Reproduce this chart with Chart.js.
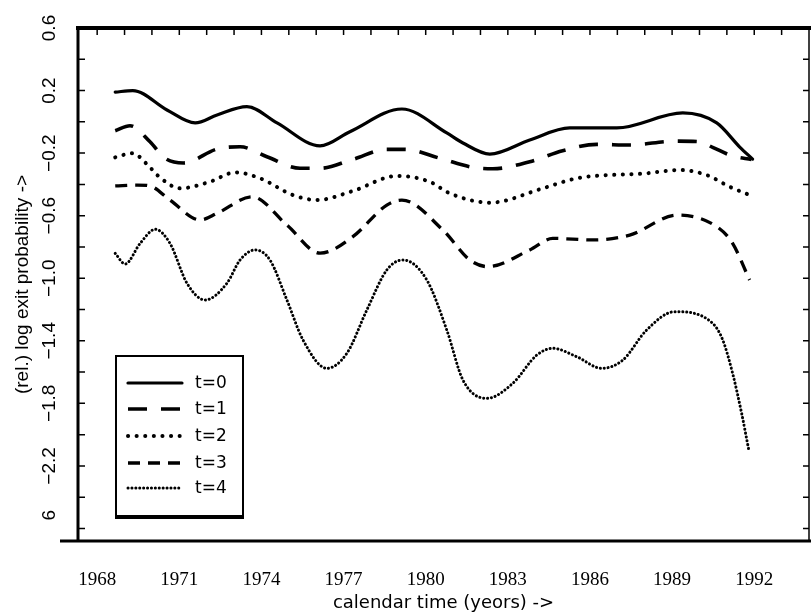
<!DOCTYPE html>
<html>
<head>
<meta charset="utf-8">
<script src="https://cdn.jsdelivr.net/npm/chart.js@4.4.1/dist/chart.umd.min.js"></script>
<style>
    html, body { margin: 0; padding: 0; background: #fff; }
    #wrap { width: 811px; height: 612px; }
</style>
</head>
<body>
<div id="wrap"><canvas id="chart" width="811" height="612"></canvas></div>
<script>
// values (year, relative log exit probability)
const t0Years = [1968.66, 1969.3, 1970.55, 1971.58, 1972.38, 1973.47, 1974.57, 1976.14, 1977.23, 1979.13, 1980.77, 1981.36, 1982.34, 1983.8, 1985.26, 1986.98, 1989.39, 1990.63, 1991.47, 1991.94];
const t0Values = [0.19, 0.20, 0.076, -0.007, 0.044, 0.097, -0.007, -0.154, -0.063, 0.082, -0.071, -0.135, -0.206, -0.116, -0.039, -0.039, 0.057, -0.007, -0.161, -0.238];

const t1Years = [1968.66, 1969.2, 1969.93, 1970.48, 1971.15, 1972.38, 1973.22, 1974.2, 1975.41, 1976.14, 1977.34, 1978.58, 1979.24, 1980.52, 1981.72, 1982.45, 1983.8, 1985.0, 1986.25, 1987.45, 1989.1, 1990.0, 1990.48, 1991.2, 1991.9];
const t1Values = [-0.057, -0.025, -0.127, -0.233, -0.263, -0.174, -0.159, -0.223, -0.297, -0.297, -0.240, -0.176, -0.176, -0.233, -0.291, -0.300, -0.255, -0.185, -0.144, -0.148, -0.123, -0.127, -0.163, -0.218, -0.240];

const t2Years = [1968.66, 1969.28, 1969.93, 1970.23, 1971.03, 1972.12, 1973.04, 1973.95, 1975.15, 1976.03, 1977.34, 1978.95, 1980.15, 1980.88, 1982.34, 1984.28, 1985.52, 1988.07, 1989.28, 1990.26, 1991.1, 1991.83];
const t2Values = [-0.227, -0.201, -0.291, -0.346, -0.425, -0.383, -0.323, -0.361, -0.468, -0.500, -0.442, -0.346, -0.383, -0.457, -0.517, -0.425, -0.361, -0.329, -0.308, -0.340, -0.415, -0.468];

const t3Years = [1968.66, 1969.46, 1969.93, 1970.66, 1971.76, 1972.38, 1973.66, 1974.93, 1976.14, 1977.34, 1978.58, 1979.13, 1980.63, 1981.61, 1982.27, 1983.8, 1984.64, 1986.1, 1987.45, 1989.2, 1990.63, 1991.21, 1991.83];
const t3Values = [-0.410, -0.404, -0.410, -0.500, -0.627, -0.585, -0.479, -0.660, -0.840, -0.734, -0.532, -0.500, -0.692, -0.883, -0.926, -0.819, -0.745, -0.755, -0.724, -0.596, -0.670, -0.777, -1.011];

const t4Years = [1968.66, 1969.02, 1969.57, 1970.12, 1970.66, 1971.28, 1971.94, 1972.74, 1973.22, 1973.77, 1974.31, 1974.93, 1975.52, 1976.39, 1977.12, 1977.85, 1978.58, 1979.17, 1980.04, 1980.77, 1981.36, 1982.23, 1983.18, 1984.06, 1984.64, 1985.52, 1986.43, 1987.2, 1988.07, 1989.09, 1990.48, 1990.85, 1991.21, 1991.54, 1991.8];
const t4Values = [-0.841, -0.909, -0.777, -0.687, -0.777, -1.032, -1.139, -1.032, -0.883, -0.819, -0.883, -1.139, -1.395, -1.576, -1.480, -1.203, -0.947, -0.883, -1.011, -1.331, -1.651, -1.768, -1.672, -1.491, -1.448, -1.502, -1.576, -1.523, -1.331, -1.214, -1.288, -1.395, -1.608, -1.864, -2.098];

const seriesLabels = ['t=0', 't=1', 't=2', 't=3', 't=4'];

// tick labels
const xTickLabels = [1968, 1971, 1974, 1977, 1980, 1983, 1986, 1989, 1992];
const yTickValues = [0.6, 0.2, -0.2, -0.6, -1.0, -1.4, -1.8, -2.2, -2.6];
const yTickText = ['0.6', '0.2', '\u22120.2', '\u22120.6', '\u22121.0', '\u22121.4', '\u22121.8', '\u22122.2', '\u00a0\u00a0\u00a0\u00a0\u00a06'];

function toPoints(years, values) {
    return years.map((yr, i) => ({ x: yr, y: values[i] }));
}

const lineStyles = [
    { borderWidth: 3.2, borderDash: [], borderCapStyle: 'round' },
    { borderWidth: 3.6, borderDash: [19, 14], borderCapStyle: 'butt' },
    { borderWidth: 4, borderDash: [0.1, 8.5], borderCapStyle: 'round' },
    { borderWidth: 3.3, borderDash: [12, 8], borderCapStyle: 'butt' },
    { borderWidth: 3, borderDash: [0.1, 3.8], borderCapStyle: 'round' }
];

const seriesData = [
    toPoints(t0Years, t0Values),
    toPoints(t1Years, t1Values),
    toPoints(t2Years, t2Values),
    toPoints(t3Years, t3Values),
    toPoints(t4Years, t4Values)
];

const datasets = seriesData.map((pts, i) => ({
    label: seriesLabels[i],
    data: pts,
    borderColor: '#000',
    backgroundColor: '#000',
    pointRadius: 0,
    fill: false,
    cubicInterpolationMode: 'monotone',
    ...lineStyles[i]
}));

// frame, inward ticks and the boxed legend
const framePlugin = {
    id: 'frame',
    afterDraw(chart) {
        const ctx = chart.ctx;
        const area = chart.chartArea;
        const xs = chart.scales.x;
        const ys = chart.scales.y;
        ctx.save();
        ctx.strokeStyle = '#000';
        ctx.setLineDash([]);
        ctx.lineCap = 'butt';

        ctx.lineWidth = 1.5;
        for (let yr = 1968; yr <= 1993; yr++) {
            const px = xs.getPixelForValue(yr);
            ctx.beginPath();
            ctx.moveTo(px, area.top);
            ctx.lineTo(px, area.top + 7);
            ctx.stroke();
        }
        for (let k = 0; k <= 16; k++) {
            const py = ys.getPixelForValue(0.6 - k * 0.2);
            ctx.beginPath();
            ctx.moveTo(area.left, py);
            ctx.lineTo(area.left + 7, py);
            ctx.moveTo(area.right, py);
            ctx.lineTo(area.right - 6, py);
            ctx.stroke();
        }

        ctx.lineWidth = 4;
        ctx.beginPath();
        ctx.moveTo(area.left - 2, area.top);
        ctx.lineTo(chart.width, area.top);
        ctx.stroke();

        ctx.lineWidth = 3;
        ctx.beginPath();
        ctx.moveTo(area.left, area.top - 2);
        ctx.lineTo(area.left, area.bottom + 1);
        ctx.stroke();

        ctx.beginPath();
        ctx.moveTo(area.left - 18, area.bottom);
        ctx.lineTo(chart.width, area.bottom);
        ctx.stroke();

        ctx.lineWidth = 1.5;
        ctx.beginPath();
        ctx.moveTo(area.right, area.top);
        ctx.lineTo(area.right, area.bottom);
        ctx.stroke();

        // legend box
        const bx = 116, by = 356, bw = 127, bh = 160;
        ctx.lineWidth = 2;
        ctx.strokeRect(bx, by, bw, bh);
        ctx.lineWidth = 4;
        ctx.beginPath();
        ctx.moveTo(bx - 1, by + bh + 1);
        ctx.lineTo(bx + bw + 1, by + bh + 1);
        ctx.stroke();

        const rowY = [383, 409, 436, 463, 488];
        ctx.font = '17px "DejaVu Sans"';
        ctx.textBaseline = 'middle';
        ctx.textAlign = 'left';
        ctx.fillStyle = '#000';
        chart.data.datasets.forEach((ds, i) => {
            ctx.lineWidth = ds.borderWidth;
            ctx.setLineDash(ds.borderDash);
            ctx.lineCap = ds.borderCapStyle;
            ctx.beginPath();
            ctx.moveTo(128, rowY[i]);
            ctx.lineTo(182, rowY[i]);
            ctx.stroke();
            ctx.fillText(ds.label, 195, rowY[i] + 1);
        });
        ctx.restore();
    }
};

const ctx = document.getElementById('chart').getContext('2d');
new Chart(ctx, {
    type: 'line',
    data: { datasets: datasets },
    options: {
        responsive: false,
        animation: false,
        devicePixelRatio: 1,
        layout: { padding: { top: 28, right: 2, left: 0, bottom: 0 } },
        scales: {
            x: {
                type: 'linear',
                min: 1967.3,
                max: 1994.0,
                grid: { display: false },
                border: { display: false },
                afterBuildTicks: scale => {
                    scale.ticks = xTickLabels.map(v => ({ value: v }));
                },
                afterFit: scale => { scale.height = 71; },
                ticks: {
                    autoSkip: false,
                    maxRotation: 0,
                    padding: 20,
                    color: '#000',
                    font: { family: '"Liberation Serif"', size: 19 },
                    callback: value => String(value)
                },
                title: {
                    display: true,
                    text: 'calendar time (yeors) ->',
                    color: '#000',
                    font: { family: '"DejaVu Sans"', size: 18, lineHeight: 1.0 },
                    padding: { top: 0, bottom: 0 }
                }
            },
            y: {
                type: 'linear',
                min: -2.68,
                max: 0.6,
                grid: { display: false },
                border: { display: false },
                afterBuildTicks: scale => {
                    scale.ticks = yTickValues.map(v => ({ value: v }));
                },
                afterFit: scale => { scale.width = 78; },
                ticks: {
                    autoSkip: false,
                    minRotation: 90,
                    maxRotation: 90,
                    crossAlign: 'center',
                    padding: 1,
                    color: '#000',
                    font: { family: '"Liberation Sans"', size: 19 },
                    callback: value => {
                        const idx = yTickValues.findIndex(v => Math.abs(v - value) < 1e-6);
                        return idx >= 0 ? yTickText[idx] : '';
                    }
                },
                title: {
                    display: true,
                    text: '(rel.) log exit probability ->',
                    color: '#000',
                    font: { family: '"Liberation Sans"', size: 19 },
                    padding: { top: 11, bottom: 0 }
                }
            }
        },
        plugins: {
            legend: { display: false },
            tooltip: { enabled: false }
        }
    },
    plugins: [framePlugin]
});
</script>
</body>
</html>
